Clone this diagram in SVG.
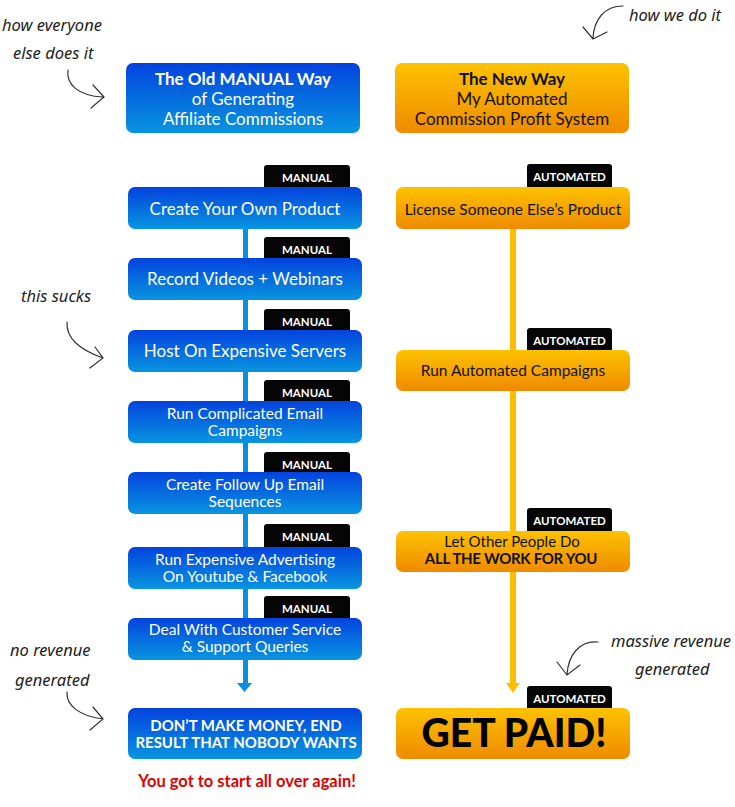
<svg xmlns="http://www.w3.org/2000/svg" width="735" height="807" viewBox="0 0 735 807">
<defs>
<linearGradient id="gb" x1="0" y1="0" x2="0" y2="1"><stop offset="0" stop-color="#0343de"/><stop offset="1" stop-color="#0895e0"/></linearGradient>
<linearGradient id="go" x1="0" y1="0" x2="0" y2="1"><stop offset="0" stop-color="#fdc200"/><stop offset="1" stop-color="#ef8a00"/></linearGradient>
<style>
.bb{fill:url(#gb)}
.ob{fill:url(#go)}
.tag{fill:#050505}
.tt{font-family:"Lato","Liberation Sans",sans-serif;font-weight:700;font-size:11.5px;fill:#fff;text-anchor:middle}
.wt{font-family:"Lato","Liberation Sans",sans-serif;font-size:17px;fill:#fff;text-anchor:middle}
.wt2{font-family:"Lato","Liberation Sans",sans-serif;font-size:15.5px;fill:#fff;text-anchor:middle}
.kt{font-family:"Lato","Liberation Sans",sans-serif;font-size:17px;fill:#111;text-anchor:middle}
.b{font-weight:700}
.hand{font-family:"Noto Sans",sans-serif;font-style:italic;font-size:16.5px;fill:#222}
.ha{fill:none;stroke:#333;stroke-width:1.2;stroke-linecap:round}
</style>
</defs>
<rect width="735" height="807" fill="#fff"/>

<g id="connectors">
<line x1="245.5" y1="229" x2="245.5" y2="684" stroke="#0a8ee0" stroke-width="5"/>
<polygon points="237,683 252,683 244.5,692" fill="#0a8ee0"/>
<line x1="513" y1="229" x2="513" y2="684" stroke="#fcbf00" stroke-width="6"/>
<polygon points="506,683 520,683 513,693" fill="#fcbf00"/>
</g>

<g id="annotations">
<text class="hand" x="2" y="31">how everyone</text>
<text class="hand" x="13" y="59">else does it</text>
<path class="ha" d="M68,70 C66,84 78,96 103,97 M93,85 L104,97 L91,108"/>
<text class="hand" x="629" y="21">how we do it</text>
<path class="ha" d="M623,6 C604,6 594,20 593,38 M583,27 L593,39 L607,32"/>
<text class="hand" x="21" y="302">this sucks</text>
<path class="ha" d="M67,322 C66,338 80,350 103,358 M95,347 L103,358 L90,368"/>
<text class="hand" x="10" y="656">no revenue</text>
<text class="hand" x="15" y="686">generated</text>
<path class="ha" d="M67,692 C66,706 80,716 103,719 M93,707 L103,719 L90,730"/>
<text class="hand" x="611" y="647">massive revenue</text>
<text class="hand" x="635" y="675">generated</text>
<path class="ha" d="M598,642 C580,640 568,655 567,675 M557,662 L567,675 L580,665"/>
</g>

<g id="old-header">
<rect class="bb" x="126" y="63" width="234" height="70" rx="7"/>
<text class="wt b" x="243" y="85">The Old MANUAL Way</text>
<text class="wt" x="243" y="105">of Generating</text>
<text class="wt" x="243" y="125">Affiliate Commissions</text>
</g>

<g id="new-header">
<rect class="ob" x="395" y="63" width="234" height="70" rx="7"/>
<text class="kt b" x="512" y="85">The New Way</text>
<text class="kt" x="512" y="105">My Automated</text>
<text class="kt" x="512" y="125">Commission Profit System</text>
</g>

<g id="m1">
<rect class="tag" x="264" y="165" width="86" height="28" rx="3"/>
<text class="tt" x="307" y="182">MANUAL</text>
<rect class="bb" x="128" y="187" width="234" height="42" rx="7"/>
<text class="wt" x="245" y="215">Create Your Own Product</text>
</g>

<g id="m2">
<rect class="tag" x="264" y="237" width="86" height="28" rx="3"/>
<text class="tt" x="307" y="254">MANUAL</text>
<rect class="bb" x="128" y="258" width="234" height="42" rx="7"/>
<text class="wt" x="245" y="285">Record Videos + Webinars</text>
</g>

<g id="m3">
<rect class="tag" x="264" y="309" width="86" height="28" rx="3"/>
<text class="tt" x="307" y="326">MANUAL</text>
<rect class="bb" x="128" y="330" width="234" height="42" rx="7"/>
<text class="wt" x="245" y="357">Host On Expensive Servers</text>
</g>

<g id="m4">
<rect class="tag" x="264" y="380" width="86" height="28" rx="3"/>
<text class="tt" x="307" y="397">MANUAL</text>
<rect class="bb" x="128" y="401" width="234" height="42" rx="7"/>
<text class="wt2" x="245" y="419">Run Complicated Email</text>
<text class="wt2" x="245" y="436">Campaigns</text>
</g>

<g id="m5">
<rect class="tag" x="264" y="452" width="86" height="28" rx="3"/>
<text class="tt" x="307" y="469">MANUAL</text>
<rect class="bb" x="128" y="472" width="234" height="42" rx="7"/>
<text class="wt2" x="245" y="490">Create Follow Up Email</text>
<text class="wt2" x="245" y="507">Sequences</text>
</g>

<g id="m6">
<rect class="tag" x="264" y="524" width="86" height="28" rx="3"/>
<text class="tt" x="307" y="541">MANUAL</text>
<rect class="bb" x="128" y="547" width="234" height="42" rx="7"/>
<text class="wt2" x="245" y="565">Run Expensive Advertising</text>
<text class="wt2" x="245" y="582">On Youtube &amp; Facebook</text>
</g>

<g id="m7">
<rect class="tag" x="264" y="596" width="86" height="28" rx="3"/>
<text class="tt" x="307" y="613">MANUAL</text>
<rect class="bb" x="128" y="618" width="234" height="42" rx="7"/>
<text class="wt2" x="245" y="635">Deal With Customer Service</text>
<text class="wt2" x="245" y="652">&amp; Support Queries</text>
</g>

<g id="m-end">
<rect class="bb" x="128" y="708" width="234" height="51" rx="7"/>
<text class="wt2 b" x="246" y="731" style="font-size:15px">DON’T MAKE MONEY, END</text>
<text class="wt2 b" x="246" y="748" style="font-size:15px">RESULT THAT NOBODY WANTS</text>
<text x="247" y="787" font-family="Lato, 'Liberation Sans', sans-serif" font-weight="700" font-size="16.5px" fill="#e00000" text-anchor="middle">You got to start all over again!</text>
</g>

<g id="a1">
<rect class="tag" x="527" y="164" width="85" height="28" rx="3"/>
<text class="tt" x="569.5" y="181">AUTOMATED</text>
<rect class="ob" x="396" y="187" width="234" height="42" rx="7"/>
<text class="kt" x="513" y="215" style="font-size:15.5px">License Someone Else’s Product</text>
</g>

<g id="a2">
<rect class="tag" x="527" y="328" width="85" height="28" rx="3"/>
<text class="tt" x="569.5" y="345">AUTOMATED</text>
<rect class="ob" x="396" y="350" width="234" height="41" rx="7"/>
<text class="kt" x="513" y="376" style="font-size:15.5px">Run Automated Campaigns</text>
</g>

<g id="a3">
<rect class="tag" x="527" y="508" width="85" height="28" rx="3"/>
<text class="tt" x="569.5" y="525">AUTOMATED</text>
<rect class="ob" x="396" y="531" width="234" height="41" rx="7"/>
<text class="kt" x="512" y="547" style="font-size:15px">Let Other People Do</text>
<text class="kt b" x="511" y="564" style="font-size:15px;letter-spacing:-0.3px">ALL THE WORK FOR YOU</text>
</g>

<g id="a-end">
<rect class="tag" x="527" y="686" width="85" height="28" rx="3"/>
<text class="tt" x="569.5" y="703">AUTOMATED</text>
<rect class="ob" x="396" y="708" width="234" height="51" rx="7"/>
<text x="514" y="747" font-family="Lato, 'Liberation Sans', sans-serif" font-weight="900" font-size="39px" fill="#000" text-anchor="middle">GET PAID!</text>
</g>
</svg>
